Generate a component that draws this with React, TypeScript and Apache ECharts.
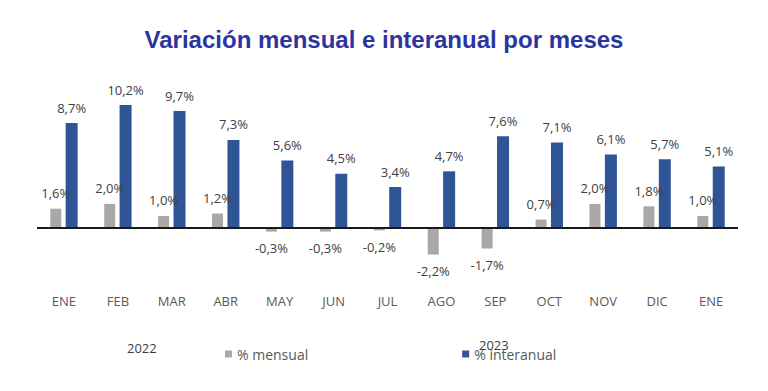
import React, { useEffect, useRef } from "react";
import * as echarts from "echarts";

const categories = ["ENE", "FEB", "MAR", "ABR", "MAY", "JUN", "JUL", "AGO", "SEP", "OCT", "NOV", "DIC", "ENE"];
const mensual = [1.6, 2.0, 1.0, 1.2, -0.3, -0.3, -0.2, -2.2, -1.7, 0.7, 2.0, 1.8, 1.0];
const interanual = [8.7, 10.2, 9.7, 7.3, 5.6, 4.5, 3.4, 4.7, 7.6, 7.1, 6.1, 5.7, 5.1];
const years = ["2022", "2023"];

const fmt = (v: number) => v.toFixed(1).replace(".", ",") + "%";

const toData = (arr: number[]) =>
  arr.map((v) => ({
    value: v,
    label: { position: v < 0 ? "bottom" : "top", distance: v < 0 ? 10 : 9 },
  }));

export default function App() {
  const ref = useRef<HTMLDivElement>(null);
  useEffect(() => {
    document.body.style.margin = "0";
    if (!ref.current) return;
    const chart = echarts.init(ref.current, undefined, { renderer: "svg" });
    const labelStyle = {
      show: true,
      fontFamily: "Open Sans",
      fontSize: 13,
      color: "#404040",
      formatter: (p: any) => fmt(p.value),
    };
    chart.setOption({
      animation: false,
      backgroundColor: "#ffffff",
      title: {
        text: "Variación mensual e interanual por meses",
        left: "center",
        top: 22,
        textStyle: {
          fontFamily: "Liberation Sans",
          fontWeight: "bold",
          fontSize: 24,
          color: "#2B35A0",
        },
      },
      legend: {
        left: 225,
        top: 347,
        padding: 0,
        itemWidth: 7,
        itemHeight: 7,
        itemGap: 154,
        icon: "rect",
        textStyle: { fontFamily: "Open Sans", fontSize: 14, color: "#595959" },
        data: ["% mensual", "% interanual"],
      },
      graphic: [
        {
          type: "text",
          left: 127,
          top: 341,
          style: { text: years[0], font: "13px 'Open Sans'", fill: "#404040" },
        },
        {
          type: "text",
          left: 479,
          top: 338,
          style: { text: years[1], font: "13px 'Open Sans'", fill: "#404040" },
        },
      ],
      grid: { left: 37, right: 30, top: 83.3, bottom: 102.7 },
      xAxis: {
        type: "category",
        data: categories,
        axisLine: { show: false, onZero: false },
        axisTick: { show: false },
        axisLabel: { fontFamily: "Open Sans", fontSize: 13, color: "#595959", margin: 6 },
      },
      yAxis: {
        type: "value",
        min: -5,
        max: 12,
        show: false,
        splitLine: { show: false },
      },
      series: [
        {
          name: "% mensual",
          type: "bar",
          data: toData(mensual),
          barWidth: 11,
          barGap: "40%",
          itemStyle: { color: "#ABA7A7" },
          label: labelStyle,
          markLine: {
            silent: true,
            symbol: "none",
            label: { show: false },
            lineStyle: { color: "#1a1a1a", width: 2, type: "solid" },
            data: [{ yAxis: 0 }],
          },
        },
        {
          name: "% interanual",
          type: "bar",
          data: toData(interanual),
          barWidth: 12,
          itemStyle: { color: "#2F5597" },
          label: labelStyle,
        },
      ],
    });
    return () => chart.dispose();
  }, []);
  return <div ref={ref} style={{ width: 768, height: 391 }} />;
}
